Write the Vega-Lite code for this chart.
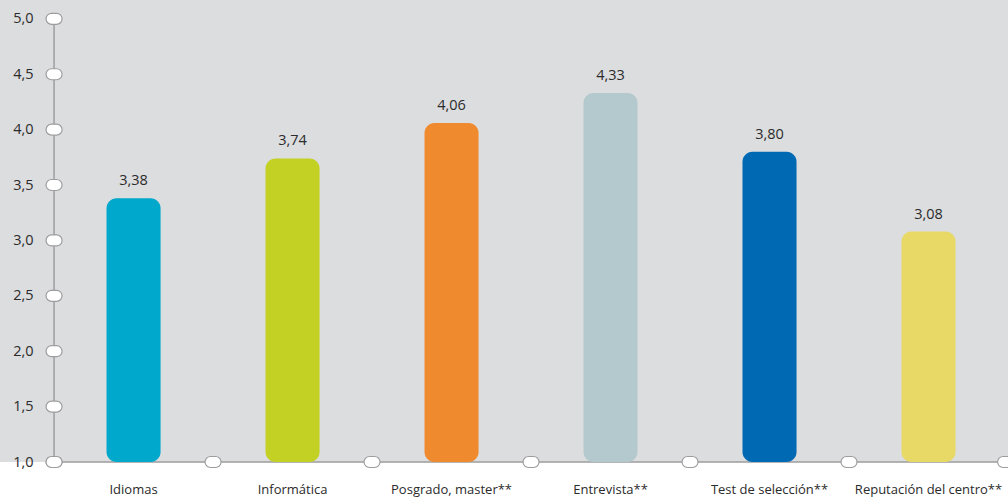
{
  "$schema": "https://vega.github.io/schema/vega-lite/v6.json",
  "width": 1008,
  "height": 462,
  "autosize": {"type": "none"},
  "padding": {"left": 0, "top": 0, "right": 0, "bottom": 37},
  "background": "white",
  "config": {
    "view": {"fill": "#dcdddf", "stroke": null},
    "font": "Open Sans",
    "locale": {"number": {"decimal": ",", "thousands": ".", "grouping": [3], "currency": ["", " €"]}},
    "axisX": {"domain": false, "ticks": false, "tickSize": 0, "grid": false, "labelPadding": 21, "labelAngle": 0, "labelFontSize": 13, "labelColor": "#2b2b2b", "labelFont": "Open Sans"},
    "axisY": {"offset": -54, "domain": false, "ticks": false, "tickSize": 0, "grid": false, "values": [1, 1.5, 2, 2.5, 3, 3.5, 4, 4.5, 5], "format": ".1f", "labelPadding": 21, "labelFontSize": 14.5, "labelColor": "#2b2b2b", "labelFont": "Open Sans"}
  },
  "datasets": {
    "bars": [
      {"cat": "Idiomas", "value": 3.38},
      {"cat": "Informática", "value": 3.74},
      {"cat": "Posgrado, master**", "value": 4.06},
      {"cat": "Entrevista**", "value": 4.33},
      {"cat": "Test de selección**", "value": 3.80},
      {"cat": "Reputación del centro**", "value": 3.08}
    ],
    "yticks": [
      {"cat": "Idiomas", "v": 1.0},
      {"cat": "Idiomas", "v": 1.5},
      {"cat": "Idiomas", "v": 2.0},
      {"cat": "Idiomas", "v": 2.5},
      {"cat": "Idiomas", "v": 3.0},
      {"cat": "Idiomas", "v": 3.5},
      {"cat": "Idiomas", "v": 4.0},
      {"cat": "Idiomas", "v": 4.5},
      {"cat": "Idiomas", "v": 5.0}
    ],
    "yline": [{"cat": "Idiomas", "lo": 1, "hi": 5}],
    "last": [{"cat": "Reputación del centro**", "v": 1}]
  },
  "layer": [
    {
      "data": {"name": "bars"},
      "mark": {"type": "rect", "fill": null, "stroke": "#9d9d9f", "strokeWidth": 1.5},
      "encoding": {
        "x": {"field": "cat", "type": "nominal", "sort": null, "axis": {"title": null},
              "scale": {"domain": ["Idiomas", "Informática", "Posgrado, master**", "Entrevista**", "Test de selección**", "Reputación del centro**"], "paddingInner": 0, "paddingOuter": 0.17, "align": 1}},
        "y": {"datum": 1, "type": "quantitative", "axis": {"title": null}},
        "y2": {"datum": 1}
      }
    },
    {
      "data": {"name": "yline"},
      "mark": {"type": "rule", "color": "#9d9d9f", "strokeWidth": 1.5},
      "encoding": {
        "x": {"field": "cat", "type": "nominal", "sort": null, "bandPosition": 0, "axis": {"title": null}},
        "y": {"field": "lo", "type": "quantitative", "axis": {"title": null}},
        "y2": {"field": "hi"}
      }
    },
    {
      "data": {"name": "bars"},
      "mark": {"type": "bar", "width": {"band": 0.34}, "cornerRadius": 10},
      "encoding": {
        "x": {"field": "cat", "type": "nominal", "sort": null, "axis": {"title": null}},
        "y": {"field": "value", "type": "quantitative",
              "scale": {"domain": [1, 5.17], "nice": false, "zero": false},
              "axis": {"title": null}},
        "y2": {"datum": 1},
        "color": {"field": "cat", "type": "nominal", "legend": null,
                  "scale": {"domain": ["Idiomas", "Informática", "Posgrado, master**", "Entrevista**", "Test de selección**", "Reputación del centro**"],
                            "range": ["#00a8cc", "#c3d124", "#f08a2f", "#b4c9ce", "#0069b4", "#e8d866"]}}
      }
    },
    {
      "data": {"name": "bars"},
      "mark": {"type": "text", "baseline": "bottom", "dy": -10, "fontSize": 14.5, "color": "#2b2b2b", "font": "Open Sans"},
      "encoding": {
        "x": {"field": "cat", "type": "nominal", "sort": null, "axis": {"title": null}},
        "y": {"field": "value", "type": "quantitative", "axis": {"title": null}},
        "text": {"field": "value", "type": "quantitative", "format": ".2f"}
      }
    },
    {
      "data": {"name": "yticks"},
      "mark": {"type": "point", "filled": true, "fill": "white", "stroke": "#9d9d9f", "strokeWidth": 1.2, "opacity": 1, "size": 256,
               "shape": "M-0.3125,-0.6875 L0.3125,-0.6875 A0.6875,0.6875 0 0 1 0.3125,0.6875 L-0.3125,0.6875 A0.6875,0.6875 0 0 1 -0.3125,-0.6875 Z"},
      "encoding": {
        "x": {"field": "cat", "type": "nominal", "sort": null, "bandPosition": 0, "axis": {"title": null}},
        "y": {"field": "v", "type": "quantitative", "axis": {"title": null}}
      }
    },
    {
      "data": {"name": "bars"},
      "mark": {"type": "point", "filled": true, "fill": "white", "stroke": "#9d9d9f", "strokeWidth": 1.2, "opacity": 1, "size": 256,
               "shape": "M-0.3125,-0.6875 L0.3125,-0.6875 A0.6875,0.6875 0 0 1 0.3125,0.6875 L-0.3125,0.6875 A0.6875,0.6875 0 0 1 -0.3125,-0.6875 Z"},
      "encoding": {
        "x": {"field": "cat", "type": "nominal", "sort": null, "bandPosition": 0, "axis": {"title": null}},
        "y": {"datum": 1, "type": "quantitative", "axis": {"title": null}}
      }
    },
    {
      "data": {"name": "last"},
      "mark": {"type": "point", "filled": true, "fill": "white", "stroke": "#9d9d9f", "strokeWidth": 1.2, "opacity": 1, "size": 256,
               "shape": "M-0.3125,-0.6875 L0.3125,-0.6875 A0.6875,0.6875 0 0 1 0.3125,0.6875 L-0.3125,0.6875 A0.6875,0.6875 0 0 1 -0.3125,-0.6875 Z"},
      "encoding": {
        "x": {"field": "cat", "type": "nominal", "sort": null, "bandPosition": 0.985, "axis": {"title": null}},
        "y": {"field": "v", "type": "quantitative", "axis": {"title": null}}
      }
    }
  ]
}
